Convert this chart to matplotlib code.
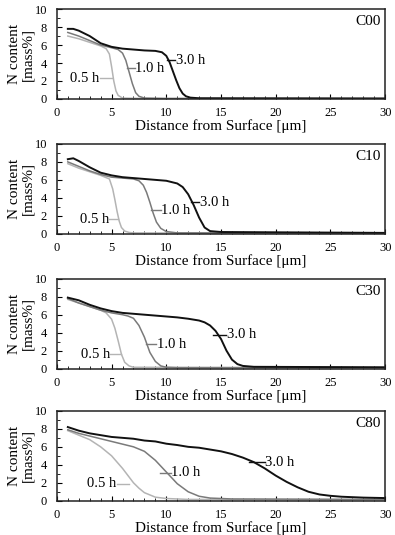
import matplotlib
matplotlib.use("Agg")
import matplotlib.pyplot as plt
from matplotlib.ticker import MultipleLocator

plt.rcParams['font.family'] = ['Liberation Serif', 'DejaVu Serif']

panels = ["C00", "C10", "C30", "C80"]
times = ["0.5 h", "1.0 h", "3.0 h"]

# C00
c00_x05 = [1, 2, 3, 4, 4.5, 4.8, 5.0, 5.2, 5.4, 5.6, 6, 8, 30]
c00_y05 = [7.0, 6.7, 6.3, 5.9, 5.6, 5.0, 3.6, 2.0, 0.9, 0.4, 0.1, 0.05, 0.05]
c00_x10 = [1, 2, 3, 4, 5, 5.6, 6.0, 6.3, 6.6, 6.9, 7.2, 7.5, 8, 10, 30]
c00_y10 = [7.4, 7.0, 6.5, 6.0, 5.7, 5.5, 5.1, 4.3, 3.0, 1.7, 0.7, 0.3, 0.1, 0.05, 0.05]
c00_x30 = [1, 1.5, 2, 3, 4, 5, 6, 7, 8, 9, 9.6, 10.0, 10.3, 10.6, 10.9, 11.2, 11.5, 11.8, 12.2, 13, 30]
c00_y30 = [7.8, 7.8, 7.6, 7.0, 6.2, 5.8, 5.6, 5.5, 5.4, 5.35, 5.2, 4.8, 4.1, 3.1, 2.1, 1.2, 0.6, 0.3, 0.15, 0.08, 0.05]

# C10
c10_x05 = [1, 2, 3, 4, 4.8, 5.1, 5.3, 5.5, 5.7, 5.9, 6.2, 6.6, 7, 30]
c10_y05 = [7.8, 7.3, 6.9, 6.5, 6.1, 5.0, 3.8, 2.5, 1.4, 0.7, 0.3, 0.15, 0.1, 0.05]
c10_x10 = [1, 2, 3, 4, 5, 6, 7, 7.5, 7.9, 8.2, 8.5, 8.8, 9.1, 9.5, 10, 11, 30]
c10_y10 = [8.0, 7.5, 7.0, 6.6, 6.3, 6.2, 6.1, 5.9, 5.4, 4.6, 3.5, 2.3, 1.3, 0.6, 0.25, 0.1, 0.08]
c10_x30 = [1, 1.5, 2, 3, 4, 5, 6, 7, 8, 9, 10, 11, 11.5, 12, 12.5, 13, 13.5, 14, 15, 30]
c10_y30 = [8.3, 8.4, 8.1, 7.4, 6.8, 6.5, 6.3, 6.2, 6.1, 6.0, 5.9, 5.6, 5.2, 4.4, 3.2, 1.8, 0.7, 0.3, 0.2, 0.1]

# C30
c30_x05 = [1, 2, 3, 4, 4.5, 5.0, 5.3, 5.6, 5.9, 6.2, 6.6, 7, 30]
c30_y05 = [7.7, 7.3, 6.9, 6.5, 6.2, 5.5, 4.5, 3.1, 1.6, 0.7, 0.3, 0.15, 0.1]
c30_x10 = [1, 2, 3, 4, 5, 6, 6.5, 7, 7.5, 8, 8.5, 9, 9.5, 10, 11, 30]
c30_y10 = [7.8, 7.3, 6.9, 6.5, 6.2, 6.0, 5.85, 5.6, 4.8, 3.5, 1.8, 0.8, 0.3, 0.15, 0.1, 0.1]
c30_x30 = [1, 2, 3, 4, 5, 6, 7, 8, 9, 10, 11, 12, 13, 13.5, 14, 14.5, 15, 15.5, 16, 16.5, 17, 18, 30]
c30_y30 = [7.9, 7.6, 7.1, 6.7, 6.4, 6.2, 6.1, 6.0, 5.9, 5.8, 5.7, 5.55, 5.35, 5.15, 4.8, 4.2, 3.3, 2.0, 1.0, 0.5, 0.3, 0.2, 0.15]

# C80
c80_x05 = [1, 2, 3, 4, 5, 6, 6.5, 7, 7.5, 8, 9, 10, 12, 30]
c80_y05 = [7.8, 7.3, 6.8, 6.0, 5.0, 3.6, 2.8, 2.0, 1.4, 0.9, 0.4, 0.25, 0.15, 0.1]
c80_x10 = [1, 2, 3, 4, 5, 6, 7, 8, 9, 10, 11, 12, 13, 14, 16, 30]
c80_y10 = [7.9, 7.5, 7.2, 6.9, 6.6, 6.3, 6.0, 5.5, 4.5, 3.2, 1.9, 1.0, 0.5, 0.3, 0.2, 0.15]
c80_x30 = [1, 2, 3, 4, 5, 6, 7, 8, 9, 10, 11, 12, 13, 14, 15, 16, 17, 18, 19, 20, 21, 22, 23, 24, 25, 26, 28, 30]
c80_y30 = [8.2, 7.8, 7.5, 7.3, 7.1, 7.0, 6.9, 6.7, 6.6, 6.35, 6.2, 6.0, 5.9, 5.7, 5.5, 5.2, 4.8, 4.3, 3.6, 2.8, 2.1, 1.5, 1.0, 0.7, 0.55, 0.45, 0.35, 0.3]

series = {
    "C00": [(c00_x05, c00_y05), (c00_x10, c00_y10), (c00_x30, c00_y30)],
    "C10": [(c10_x05, c10_y05), (c10_x10, c10_y10), (c10_x30, c10_y30)],
    "C30": [(c30_x05, c30_y05), (c30_x10, c30_y10), (c30_x30, c30_y30)],
    "C80": [(c80_x05, c80_y05), (c80_x10, c80_y10), (c80_x30, c80_y30)],
}

# label annotations: (leader start x, leader end x, y, text x)
labels = {
    "C00": [(3.95, 5.0, 2.3, 3.9), (6.4, 7.1, 3.4, 7.15), (10.1, 10.8, 4.3, 10.85)],
    "C10": [(4.8, 5.6, 1.6, 4.8), (8.6, 9.5, 2.6, 9.55), (12.3, 13.0, 3.5, 13.05)],
    "C30": [(4.9, 5.9, 1.6, 4.9), (8.1, 9.1, 2.7, 9.15), (14.3, 15.5, 3.75, 15.55)],
    "C80": [(5.5, 6.6, 1.9, 5.5), (9.4, 10.4, 3.1, 10.45), (17.6, 19.0, 4.3, 19.05)],
}

colors = ["#b4b4b4", "#7a7a7a", "#111111"]

fig = plt.figure(figsize=(3.95, 5.35), dpi=100)
tops = [0.983, 0.731, 0.479, 0.232]
h = 0.168
for i, p in enumerate(panels):
    ax = fig.add_axes([0.144, tops[i] - h, 0.831, h])
    for (xs, ys), c in zip(series[p], colors):
        ax.plot(xs, ys, color=c, lw=1.4 if c == "#111111" else 1.1)
    for (x0, x1, yy, tx), c in zip(labels[p], colors):
        ax.plot([x0, x1], [yy, yy], color=c, lw=1.0)
    for (x0, x1, yy, tx), t in zip(labels[p], times):
        if t == "0.5 h":
            ax.text(x0 - 0.05, yy, t, ha="right", va="center", fontsize=10.5)
        else:
            ax.text(tx, yy, t, ha="left", va="center", fontsize=10.5)
    ax.text(29.6, 8.6, p, ha="right", va="center", fontsize=11)
    ax.set_xlim(0, 30)
    ax.set_ylim(0, 10)
    ax.xaxis.set_major_locator(MultipleLocator(5))
    ax.xaxis.set_minor_locator(MultipleLocator(1))
    ax.yaxis.set_major_locator(MultipleLocator(2))
    ax.yaxis.set_minor_locator(MultipleLocator(1))
    ax.tick_params(which="both", direction="in", labelsize=9, top=False, right=False)
    ax.tick_params(which="major", length=3.5, width=0.8)
    ax.tick_params(which="minor", length=2, width=0.6)
    ax.tick_params(axis="x", which="major", pad=6)
    ax.tick_params(axis="y", which="major", pad=7)
    for s in ax.spines.values():
        s.set_linewidth(1.1)
        s.set_color("#222222")
    ax.set_xlabel("Distance from Surface [μm]", fontsize=11, labelpad=0)
    ax.set_ylabel("N content\n[mass%]", fontsize=11, linespacing=0.95)
    ax.yaxis.set_label_coords(-0.07, 0.5)

fig.savefig("out.png", dpi=100)
